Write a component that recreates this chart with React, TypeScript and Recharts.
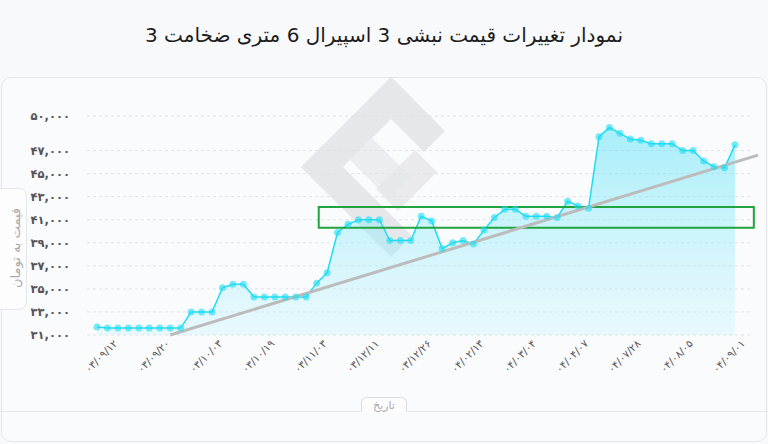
import { Area, CartesianGrid, ComposedChart, ReferenceArea, ReferenceLine, XAxis, YAxis } from 'recharts';

// قیمت نبشی در هر نقطه (تومان)
const prices = [
  31700, 31600, 31600, 31600, 31600, 31600, 31600, 31600, 31600,
  33000, 33000, 33000,
  35100, 35400, 35400,
  34300, 34300, 34300, 34300, 34300, 34300,
  35500, 36400, 39900, 40600, 41000, 41000, 41000,
  39200, 39200, 39200,
  41300, 40900, 38500, 39000, 39200, 38900, 40100, 41200, 41900, 41900,
  41300, 41300, 41300, 41200, 42600, 42200, 42000,
  48200, 49000, 48500, 48000, 47900, 47600, 47600, 47600, 47000, 47000,
  46100, 45600, 45500, 47500
];

const xTickIdx = [0, 5, 10, 15, 20, 25, 30, 35, 40, 45, 50, 55, 60];
const xTickLabels = [
  '۰۳/۰۹/۱۲', '۰۳/۰۹/۲۰', '۰۳/۱۰/۰۳', '۰۳/۱۰/۱۹', '۰۳/۱۱/۰۳', '۰۳/۱۲/۱۱', '۰۳/۱۲/۲۶',
  '۰۴/۰۲/۱۳', '۰۴/۰۳/۰۴', '۰۴/۰۴/۰۷', '۰۴/۰۷/۲۸', '۰۴/۰۸/۰۵', '۰۴/۰۹/۰۱'
];
const yTicks = [31000, 33000, 35000, 37000, 39000, 41000, 43000, 45000, 47000, 50000];

// خط روند و کادر سبز
const trendStart = { x: 7, y: 31000 };
const trendEnd = { x: 63.2, y: 46600 };
const band = { x1: 21.2, x2: 62.8, y1: 40300, y2: 42100 };

const data = prices.map((price, idx) => ({ idx, price }));

const faDigits = '۰۱۲۳۴۵۶۷۸۹';
const toFa = (n: number) => n.toLocaleString('en-US').replace(/\d/g, (d) => faDigits[+d]);

const FONT = "'DejaVu Sans', sans-serif";
const CYAN = '#1fdcf2';

function DateTick(props: any) {
  const { x, y, payload } = props;
  const i = xTickIdx.indexOf(payload.value);
  return (
    <g transform={`translate(${x + 4},${y + 13}) rotate(-45)`}>
      <text textAnchor="middle" dominantBaseline="central" fontSize={10.5} fill="#5a5a5a" fontFamily={FONT}>
        {xTickLabels[i]}
      </text>
    </g>
  );
}

// لوگوی کم‌رنگ پس‌زمینه
function Watermark() {
  return (
    <svg width={768} height={444} style={{ position: 'absolute', left: 0, top: 0 }}>
      <g fill="#d9dade" opacity={0.6}>
        <path d="M391 77 L412 98 L322 188 L301 167 Z" />
        <path d="M301 167 L322 146 L412 236 L391 257 Z" />
        <path d="M391 77 L445 131 L424 152 L370 98 Z" />
        <path d="M415 150 L437 172 L398 211 L376 189 Z" opacity={0.8} />
        <path d="M350 160 L372 138 L411 177 L389 199 Z" opacity={0.7} />
      </g>
    </svg>
  );
}

export default function App() {
  return (
    <div
      style={{
        position: 'absolute', left: 0, top: 0, width: 768, height: 444,
        background: '#f8f9fb', overflow: 'hidden', fontFamily: FONT
      }}
    >
      <div
        style={{
          position: 'absolute', left: 0, top: 23, width: 768, textAlign: 'center',
          fontSize: 20, color: '#1e1e1e', direction: 'rtl'
        }}
      >
        نمودار تغییرات قیمت نبشی 3 اسپیرال 6 متری ضخامت 3
      </div>
      <div
        style={{
          position: 'absolute', left: 1, top: 77, width: 764, height: 363,
          border: '1px solid #e6e7eb', borderRadius: 10, background: '#fafbfd'
        }}
      />
      <div style={{ position: 'absolute', left: 0, top: 411, width: 768, height: 1, background: '#e8e9ed' }} />
      <Watermark />
      <div style={{ position: 'absolute', left: 0, top: 0 }}>
        <ComposedChart width={768} height={444} data={data} margin={{ top: 116, right: 18, bottom: 49, left: 7 }}>
          <defs>
            <linearGradient id="fillCyan" x1="0" y1="0" x2="0" y2="1">
              <stop offset="0%" stopColor="#4fe0f6" stopOpacity={0.8} />
              <stop offset="100%" stopColor="#c4f4fc" stopOpacity={0.55} />
            </linearGradient>
          </defs>
          <CartesianGrid vertical={false} strokeDasharray="3 3" stroke="#e0e1e5" />
          <XAxis
            dataKey="idx"
            type="number"
            domain={[0, 61]}
            ticks={xTickIdx}
            interval={0}
            padding={{ left: 10, right: 15 }}
            axisLine={false}
            tickLine={false}
            height={60}
            tick={<DateTick />}
          />
          <YAxis
            type="number"
            domain={[31000, 50000]}
            ticks={yTicks}
            interval={0}
            width={80}
            axisLine={false}
            tickLine={false}
            tickMargin={11}
            tickFormatter={toFa}
            tick={{ fontSize: 11.5, fontWeight: 'bold', fill: '#555', fontFamily: FONT }}
          />
          <Area
            type="linear"
            dataKey="price"
            stroke={CYAN}
            strokeWidth={1.5}
            fill="url(#fillCyan)"
            dot={{ r: 3.5, fill: CYAN, stroke: 'none' }}
            activeDot={false}
            isAnimationActive={false}
          />
          <ReferenceLine
            segment={[trendStart, trendEnd]}
            stroke="#bcbcbc"
            strokeWidth={3}
            ifOverflow="visible"
          />
          <ReferenceArea
            x1={band.x1}
            x2={band.x2}
            y1={band.y1}
            y2={band.y2}
            fill="none"
            fillOpacity={0}
            stroke="#22a33e"
            strokeWidth={2}
            ifOverflow="visible"
          />
        </ComposedChart>
      </div>
      <div
        style={{
          position: 'absolute', left: -10, top: 188, width: 35, height: 120,
          border: '1px solid #e6e7eb', borderRadius: 8, background: '#fdfdfe'
        }}
      />
      <div
        style={{
          position: 'absolute', left: 15, top: 248, transform: 'translate(-50%,-50%) rotate(-90deg)',
          whiteSpace: 'nowrap', fontSize: 13, color: '#a9a9ad', direction: 'rtl'
        }}
      >
        قیمت به تومان
      </div>
      <div
        style={{
          position: 'absolute', left: 361, top: 397, width: 46, height: 15, boxSizing: 'border-box',
          border: '1px solid #dcdde1', borderBottom: 'none', borderRadius: '6px 6px 0 0', background: '#fdfdfe',
          fontSize: 11, color: '#a9a9ad', textAlign: 'center', lineHeight: '15px', direction: 'rtl'
        }}
      >
        تاریخ
      </div>
    </div>
  );
}
